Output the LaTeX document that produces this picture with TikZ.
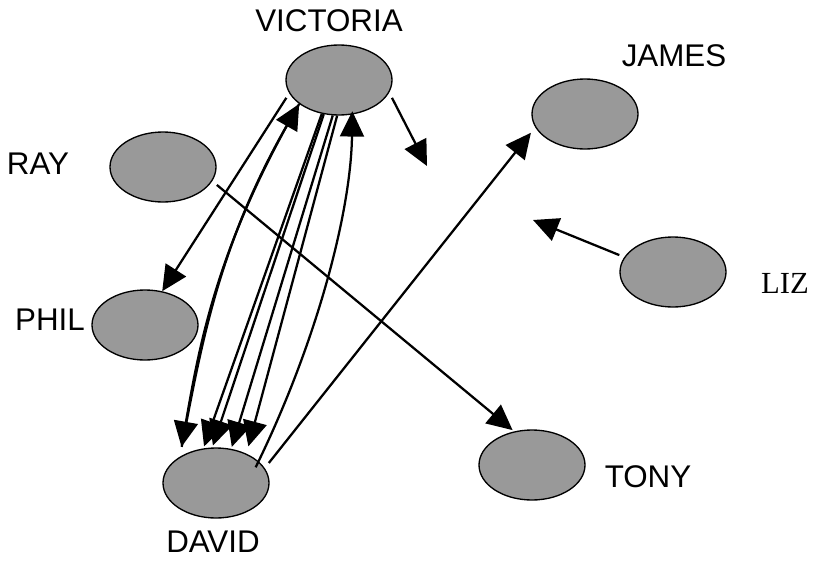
\documentclass[tikz,border=0pt]{standalone}
\usepackage{fontspec}
\setmainfont{Liberation Sans}
\newfontfamily\timesface{Liberation Serif}
\usetikzlibrary{arrows.meta,shapes.geometric}
\definecolor{nodefill}{RGB}{153,153,153}
\begin{document}
\begin{tikzpicture}[x=0.75pt,y=-0.75pt,
  person/.style={ellipse, draw=black, line width=1pt, fill=nodefill,
    minimum width=79.5pt, minimum height=52.5pt, inner sep=0pt},
  nametag/.style={font=\fontsize{23.5}{28}\selectfont, anchor=base, inner sep=0pt},
  link/.style={line width=1.7pt, -{Triangle[length=19pt,width=18pt]}},
  linkback/.style={line width=1.7pt, {Triangle[length=19pt,width=18pt]}-}]
\useasboundingbox (0,0) rectangle (816,560);

% people
\node[person] (vic)   at (339,80)  {};
\node[person] (ray)   at (163,167) {};
\node[person] (phil)  at (145,325) {};
\node[person] (david) at (216,483) {};
\node[person] (james) at (585,114) {};
\node[person] (liz)   at (673,272) {};
\node[person] (tony)  at (532,465) {};

% names
\node[nametag] (vic-l)   at (329,32)  {VICTORIA};
\node[nametag] (james-l) at (674,66)  {JAMES};
\node[nametag] (ray-l)   at (38,174)  {RAY};
\node[nametag] (phil-l)  at (50,330)  {PHIL};
\node[nametag, font=\timesface\fontsize{23}{28}\selectfont] (liz-l) at (785,293) {LIZ};
\node[nametag] (tony-l)  at (648,487) {TONY};
\node[nametag] (david-l) at (213,552) {DAVID};

% loose ends
\coordinate (vic-out) at (427,166);
\coordinate (liz-out) at (533,220);

% single links
\draw[link, shorten <=4.5pt] (vic.-14.5) -- (vic-out);
\draw[link, shorten <=4pt] (liz.163) -- (liz-out);
\draw[link, shorten <=4.5pt, shorten >=1.5pt] (ray.-16) -- (tony.118);
\draw[link, shorten <=4.9pt, shorten >=5.2pt] (david.17) -- (james.195);
\draw[link, shorten <=4pt] (vic.195) -- (phil.63);

% VICTORIA to DAVID, straight
\draw[link, shorten >=1.5pt] (vic.243) -- (david.110);
\draw[link, shorten >=1.5pt] (vic.246) -- (david.96);
\draw[link, shorten >=1.5pt] (vic.260) -- (david.66);
\draw[link, shorten >=5.6pt] (vic.267) -- (david.44);

% VICTORIA and DAVID, curved both ways
\draw[link, shorten >=7.5pt] (vic.211) .. controls (216,247) and (199,348) .. (david.144);
\draw[linkback, shorten >=7.5pt] (vic.211) .. controls (218,246) and (201,347) .. (david.144);
\draw[link, shorten <=-5pt, shorten >=-2.5pt] (david.27) .. controls (318,340) and (351,210) .. (vic.291);
\end{tikzpicture}
\end{document}
